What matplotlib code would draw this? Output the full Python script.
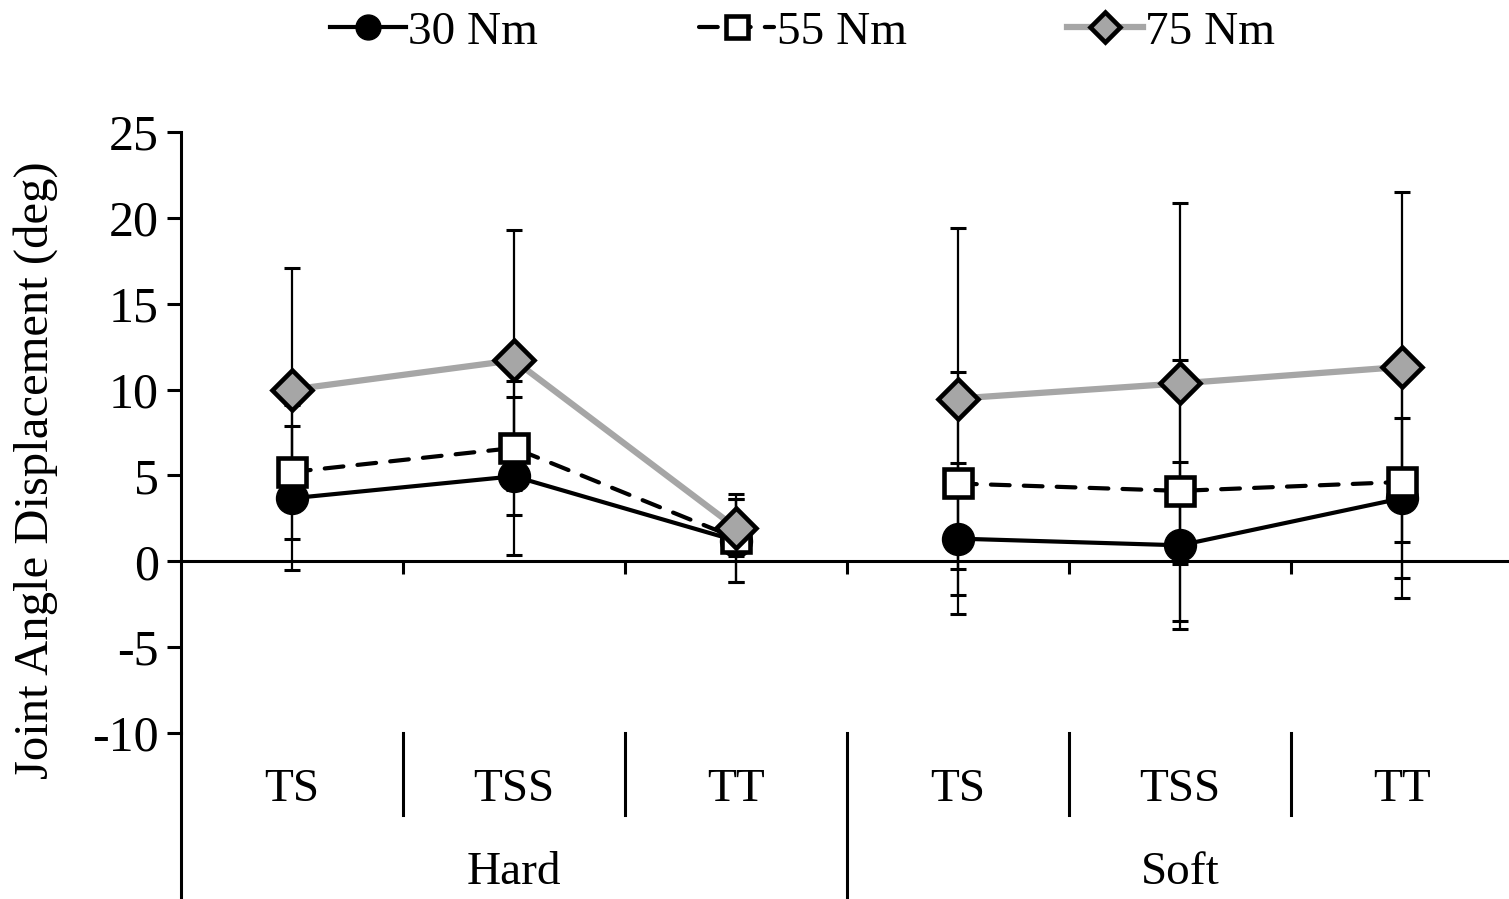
import numpy as np
import matplotlib.pyplot as plt

plt.rcParams['font.family'] = ['Liberation Serif', 'DejaVu Serif']
plt.rcParams['axes.unicode_minus'] = False

groups = ['Hard', 'Soft']
conditions = ['TS', 'TSS', 'TT']
labels = ['30 Nm', '55 Nm', '75 Nm']

# means per torque level (Hard TS, TSS, TT, Soft TS, TSS, TT)
mean30 = [3.67, 4.95, 1.2, 1.32, 0.93, 3.67]
mean55 = [5.2, 6.6, 1.35, 4.53, 4.1, 4.62]
mean75 = [10.0, 11.71, 1.95, 9.48, 10.36, 11.32]

sd30 = [4.2, 4.6, 2.4, 4.41, 4.85, 4.65]
sd55 = [3.92, 3.92, 2.55, 6.47, 7.6, 6.76]
sd75 = [7.07, 7.58, 1.65, 9.91, 10.52, 10.2]

n_cat = len(groups) * len(conditions)
x = np.arange(n_cat)

fig = plt.figure(figsize=(15.09, 8.99), dpi=100)
ax = fig.add_axes([0.11995, 0.18465, 0.8827, 0.66852])

grey = '#a6a6a6'
styles = [
    dict(color='black', lw=3, ls='-', marker='o', ms=23, mfc='black', mec='black', mew=1),
    dict(color='black', lw=3, ls=(0, (4.5, 3.4)), marker='s', ms=20, mfc='white', mec='black', mew=3.3),
    dict(color=grey, lw=4.5, ls='-', marker='D', ms=20, mfc=grey, mec='black', mew=3.3),
]
means = [mean30, mean55, mean75]
sds = [sd30, sd55, sd75]

for m, s in zip(means, sds):
    ax.errorbar(x, m, yerr=s, fmt='none', ecolor='black', elinewidth=1.6,
                capsize=6, capthick=2.2, zorder=2)

handles = []
for i, (m, lab, st) in enumerate(zip(means, labels, styles)):
    for g in range(len(groups)):
        sl = slice(g * 3, g * 3 + 3)
        h, = ax.plot(x[sl], np.array(m)[sl], label=lab, zorder=3 + i,
                     dash_capstyle='round', **st)
    handles.append(h)

ax.set_xlim(-0.5, n_cat - 0.5)
ax.set_ylim(-10, 25)
ax.set_yticks(np.arange(-10, 26, 5))
ax.tick_params(axis='y', direction='out', length=10, width=2.2, labelsize=36, pad=6)
ax.set_xticks(np.arange(0.5, n_cat - 0.5, 1))
ax.set_xticklabels([])
ax.tick_params(axis='x', direction='out', length=9, width=2.2)

for sp in ['top', 'right']:
    ax.spines[sp].set_visible(False)
ax.spines['bottom'].set_position(('data', 0))
ax.spines['left'].set_linewidth(2.2)
ax.spines['bottom'].set_linewidth(2.2)
ax.set_ylabel('Joint Angle Displacement (deg)', fontsize=35)
ax.yaxis.set_label_coords(-0.092, 0.437)

# grouped category axis below the plot
unit = 601 / 35.0
y_sep = -10 - 82 / unit
y_bot = -10 - 180 / unit
y_cond = -10 - 57 / unit
y_grp = -10 - 140 / unit
for k in range(n_cat + 1):
    xb = k - 0.5
    y_end = y_bot if k % 3 == 0 else y_sep
    ax.plot([xb, xb], [-10, y_end], color='black', lw=2.2, clip_on=False)
for k in range(n_cat):
    ax.text(x[k], y_cond, conditions[k % 3], ha='center', va='center', fontsize=34)
for g, name in enumerate(groups):
    ax.text(g * 3 + 1, y_grp, name, ha='center', va='center', fontsize=34)

fig.legend(handles, labels, loc='center', bbox_to_anchor=(0.532, 0.964), ncol=3,
           frameon=False, fontsize=34, handlelength=1.6, handletextpad=0.05,
           columnspacing=3.4, markerscale=0.78)

fig.savefig('out.png', dpi=100)
